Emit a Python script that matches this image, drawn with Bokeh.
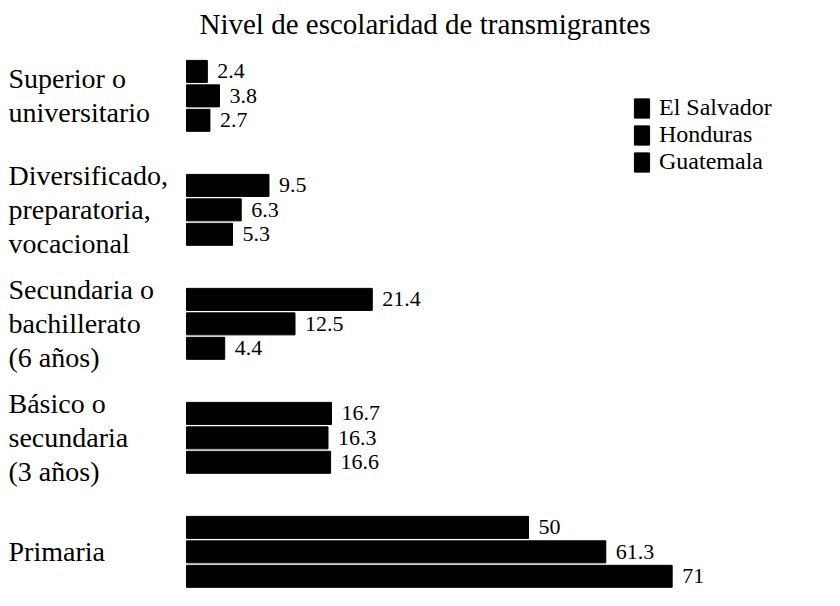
from bokeh.plotting import figure
from bokeh.models import Range1d, ColumnDataSource, Legend, LegendItem
from bokeh.core.properties import value
from bokeh.embed import file_html
from bokeh.resources import INLINE

# ---------------- data ----------------
title_text = "Nivel de escolaridad de transmigrantes"
categories = [
    "Superior o\nuniversitario",
    "Diversificado,\npreparatoria,\nvocacional",
    "Secundaria o\nbachillerato\n(6 años)",
    "Básico o\nsecundaria\n(3 años)",
    "Primaria",
]
countries = ["El Salvador", "Honduras", "Guatemala"]
el_salvador = [2.4, 9.5, 21.4, 16.7, 50]
honduras = [3.8, 6.3, 12.5, 16.3, 61.3]
guatemala = [2.7, 5.3, 4.4, 16.6, 71]
series = [el_salvador, honduras, guatemala]

# the original draws "Primaria" on its own (compressed) scale
broken_group = 4

# ---------------- layout ----------------
W, H = 824, 590
GROUP_STEP = 4.66      # rows between group starts
BAR_H = 0.9
FONT = "Times New Roman"

p = figure(width=W, height=H, output_backend="svg", toolbar_location=None,
           x_range=Range1d(-21.43, 73.5), y_range=Range1d(21.22, -1.10),
           x_axis_location=None, y_axis_location=None, min_border=0,
           title=title_text)
p.extra_x_ranges = {"prim": Range1d(-27.19, 93.27)}
p.grid.visible = False
p.outline_line_color = None
p.title.text_font = FONT
p.title.text_font_size = "29px"
p.title.text_font_style = "normal"
p.title.text_color = "black"
p.title.align = "left"
p.title.offset = 199

legend_items = []
for s, (name, vals) in enumerate(zip(countries, series)):
    main = dict(y=[], v=[], lab=[])
    prim = dict(y=[], v=[], lab=[])
    for g, v in enumerate(vals):
        d = prim if g == broken_group else main
        d["y"].append(g * GROUP_STEP + s)
        d["v"].append(v)
        d["lab"].append(f"{v:g}")
    src_m = ColumnDataSource(main)
    src_p = ColumnDataSource(prim)
    r = p.hbar(y="y", right="v", left=0, height=BAR_H, source=src_m,
               fill_color="black", line_color="black")
    p.hbar(y="y", right="v", left=0, height=BAR_H, source=src_p,
           fill_color="black", line_color="black", x_range_name="prim")
    p.text(x="v", y="y", text="lab", source=src_m, x_offset=10,
           text_font=value(FONT), text_font_size="22px",
           text_baseline="middle", text_align="left", text_color="black")
    p.text(x="v", y="y", text="lab", source=src_p, x_offset=10,
           text_font=value(FONT), text_font_size="22px",
           text_baseline="middle", text_align="left", text_color="black",
           x_range_name="prim")
    legend_items.append(LegendItem(label=name, renderers=[r]))

# category labels at the left edge
cat_src = ColumnDataSource(dict(
    x=[p.x_range.start] * len(categories),
    y=[g * GROUP_STEP + 1 for g in range(len(categories))],
    t=categories,
))
p.text(x="x", y="y", text="t", source=cat_src, x_offset=8,
       text_font=value(FONT), text_font_size="28px", text_line_height=1.1,
       text_baseline="middle", text_align="left", text_color="black")

legend = Legend(items=legend_items, location=(632, 415),
                glyph_width=19, glyph_height=24, label_standoff=8,
                spacing=0, padding=0, margin=0, label_height=20,
                border_line_color=None, background_fill_alpha=0,
                label_text_font=FONT, label_text_font_size="24px",
                label_text_color="black")
p.add_layout(legend)

open("out.html", "w").write(file_html(p, INLINE))
